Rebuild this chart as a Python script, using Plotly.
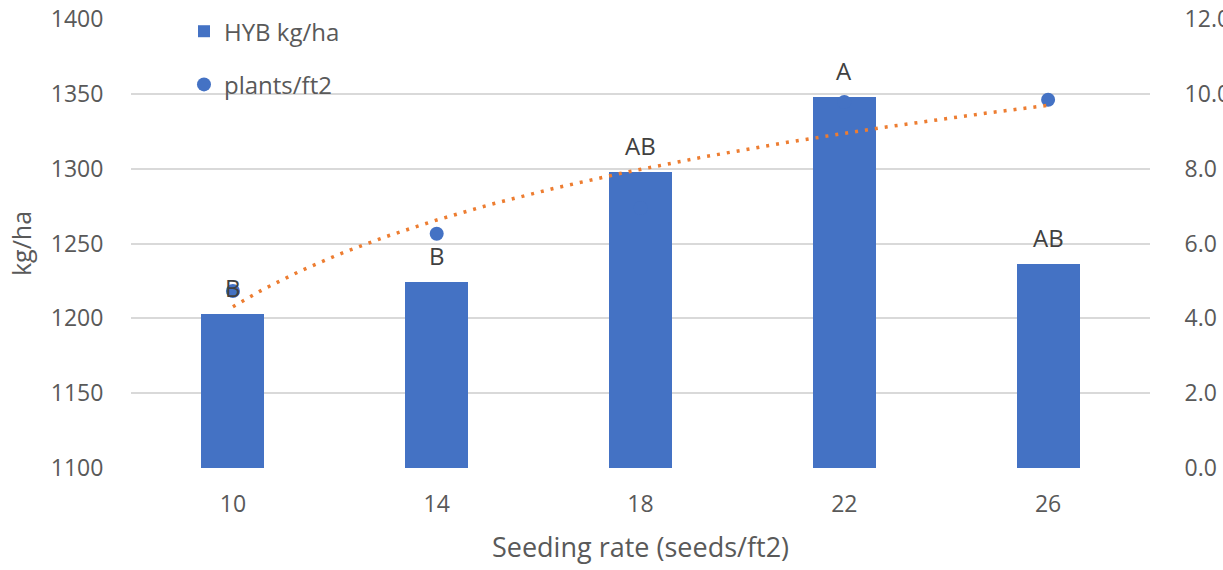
import numpy as np
import plotly.graph_objects as go

# Seeding rate categories and measured values
seeding_rates = ["10", "14", "18", "22", "26"]
yield_kg_ha = [1203, 1224, 1298, 1348, 1236]
plants_ft2 = [4.73, 6.26, 6.95, 9.78, 9.84]
letters = ["B", "B", "AB", "A", "AB"]

BLUE = "#4472C4"
ORANGE = "#ED7D31"
GRAY_TXT = "#595959"
GRID = "#D9D9D9"
FONT = "Open Sans"

pos = np.arange(len(seeding_rates))

# Logarithmic trendline of plant stand over category index (1..n)
idx = pos + 1
b, a = np.polyfit(np.log(idx), plants_ft2, 1)
t_idx = np.linspace(1, len(seeding_rates), 200)
t_x = t_idx - 1
t_y = a + b * np.log(t_idx)

fig = go.Figure()

fig.add_trace(go.Bar(
    x=pos, y=yield_kg_ha, name="HYB kg/ha", width=0.31,
    marker=dict(color=BLUE, line=dict(width=0)),
    legendgroup="a",
))

fig.add_trace(go.Scatter(
    x=pos, y=plants_ft2, name="plants/ft2", mode="markers",
    marker=dict(color=BLUE, size=14), yaxis="y2",
    legendgroup="b",
))

fig.add_trace(go.Scatter(
    x=t_x, y=t_y, mode="lines", yaxis="y2", showlegend=False,
    line=dict(color=ORANGE, width=3.5, dash="3px,7px"),
    hoverinfo="skip",
))

# Significance letters above the bars
for p, v, lab in zip(pos, yield_kg_ha, letters):
    fig.add_annotation(
        x=p, y=v, text=lab, showarrow=False, yanchor="bottom", yshift=8,
        font=dict(family=FONT, size=24, color="#404040"),
    )

fig.update_layout(
    width=1223, height=570,
    margin=dict(l=131, r=73, t=19, b=102, autoexpand=False),
    paper_bgcolor="white", plot_bgcolor="white",
    font=dict(family=FONT, size=23, color=GRAY_TXT),
    bargap=0,
    showlegend=True,
    legend=dict(
        x=0.052, y=1.022, xanchor="left", yanchor="top",
        bgcolor="rgba(0,0,0,0)", tracegroupgap=19,
        font=dict(family=FONT, size=24, color=GRAY_TXT),
        itemwidth=30,
    ),
    xaxis=dict(
        range=[-0.5, 4.5], tickmode="array", tickvals=pos, ticktext=seeding_rates,
        showgrid=False, zeroline=False, showline=False, automargin=False,
        ticks="outside", ticklen=15, tickcolor="rgba(0,0,0,0)",
        tickfont=dict(size=23),
        title=dict(text="Seeding rate (seeds/ft2)", standoff=20,
                   font=dict(family=FONT, size=27, color=GRAY_TXT)),
    ),
    yaxis=dict(
        range=[1100, 1400], dtick=50, showgrid=True, gridcolor=GRID, gridwidth=1.5,
        zeroline=False, showline=False, automargin=False,
        ticks="outside", ticklen=22, tickcolor="rgba(0,0,0,0)",
        tickfont=dict(size=23),
        title=dict(text="kg/ha", standoff=12,
                   font=dict(family=FONT, size=25, color=GRAY_TXT)),
    ),
    yaxis2=dict(
        range=[0, 12], dtick=2, tickformat=".1f", overlaying="y", side="right",
        showgrid=False, zeroline=False, showline=False, automargin=False,
        ticks="outside", ticklen=29, tickcolor="rgba(0,0,0,0)",
        tickfont=dict(size=23),
    ),
)

fig.write_html("out.html")
